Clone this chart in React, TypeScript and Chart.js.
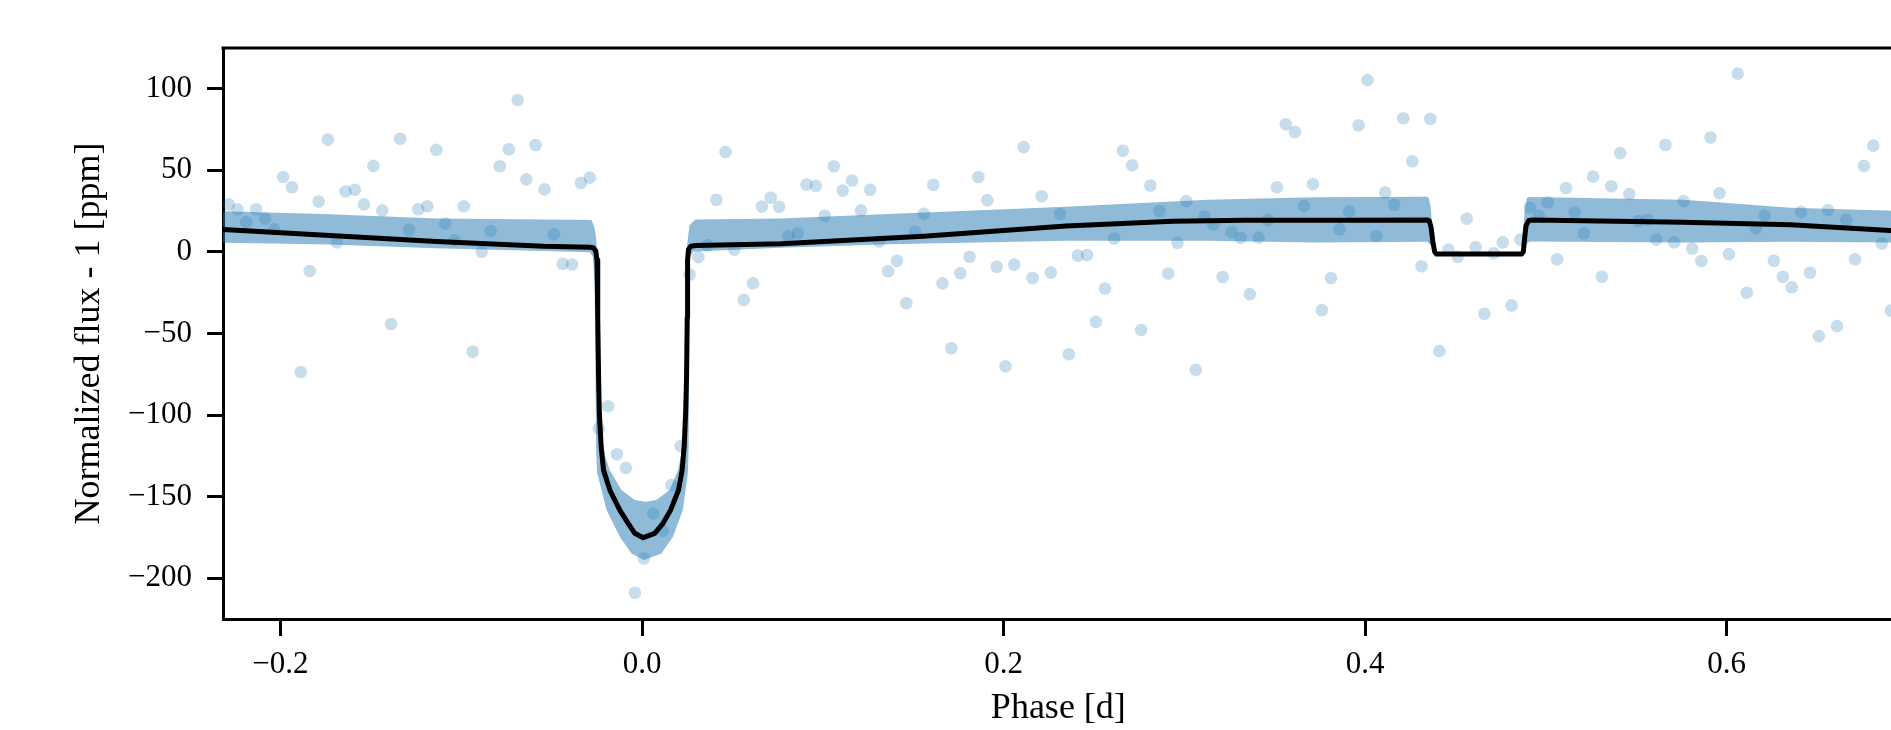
import React, { useEffect, useRef } from "react";
import { Chart, registerables } from "chart.js";

Chart.register(...registerables);

// ---------- axis ticks ----------
const xTicks = [-0.2, 0.0, 0.2, 0.4, 0.6];
const xTickLabels = ["\u22120.2", "0.0", "0.2", "0.4", "0.6"];
const yTicks = [-200, -150, -100, -50, 0, 50, 100];
const yTickLabels = ["\u2212200", "\u2212150", "\u2212100", "\u221250", "0", "50", "100"];
const xLimits = [-0.2318, 0.6924];
const yLimits = [-224.9, 124.9];

// ---------- binned observations ----------
const dataPhase = [
  -0.2286, -0.2238, -0.2189, -0.2135, -0.2086, -0.2035, -0.1986, -0.1937, -0.1888, -0.1838,
  -0.1789, -0.1738, -0.1688, -0.164, -0.1589, -0.1538, -0.1486, -0.1437, -0.1388, -0.1338,
  -0.1289, -0.1238, -0.1188, -0.1138, -0.1089, -0.1037, -0.0986, -0.0937, -0.0887, -0.0838,
  -0.0787, -0.0737, -0.0688, -0.064, -0.0589, -0.0539, -0.0488, -0.0439, -0.0387, -0.0338,
  -0.0289, -0.0239, -0.0188, -0.0139, -0.0089, -0.0039, 0.001, 0.0062, 0.0115, 0.0162,
  0.0214, 0.0263, 0.0312, 0.0362, 0.0411, 0.0462, 0.0511, 0.0563, 0.0614, 0.0663,
  0.0712, 0.0758,
  0.0809, 0.0861, 0.091, 0.0961, 0.1011, 0.1061, 0.111, 0.1162, 0.1211, 0.1262,
  0.1312, 0.1361, 0.141, 0.1462, 0.151, 0.1559, 0.1611, 0.1662, 0.1711, 0.1761,
  0.1812, 0.1861, 0.191, 0.1962, 0.2011, 0.2059, 0.2111, 0.216, 0.2211, 0.2261,
  0.2312, 0.2361, 0.2411, 0.2462, 0.2511, 0.2561, 0.2611, 0.266, 0.2712, 0.2761,
  0.2812, 0.2862, 0.2911, 0.2962, 0.3011, 0.3063, 0.3112, 0.316, 0.3212, 0.3261,
  0.3312, 0.3362, 0.3411, 0.3462, 0.3512, 0.3561, 0.3612, 0.3662, 0.3711, 0.3761,
  0.3811, 0.3858,
  0.3912, 0.3964, 0.4013, 0.4062, 0.4111, 0.416, 0.4211, 0.4261, 0.4312, 0.4361,
  0.4411, 0.4461, 0.4512, 0.4562, 0.4611, 0.466, 0.4711, 0.4761, 0.481, 0.4859,
  0.4911, 0.4961, 0.501, 0.5062, 0.5111, 0.516, 0.521, 0.5261, 0.531, 0.5362,
  0.5411, 0.5461, 0.5511, 0.5562, 0.5611, 0.5661, 0.571, 0.5761, 0.581, 0.586,
  0.5911, 0.596, 0.6012, 0.6061, 0.6111, 0.6161, 0.621, 0.6261, 0.6311, 0.636,
  0.6411, 0.6461, 0.651, 0.6561, 0.6611, 0.6661, 0.671, 0.6759, 0.6811, 0.6858,
  0.6908,
];
const dataFlux = [
  29.1, 26.1, 18.2, 26.1, 20.4, 13.8, 45.9, 39.6, -73.6, -11.7,
  30.9, 68.8, 5.8, 37.0, 38.1, 29.1, 52.7, 25.4, -44.2, 69.3,
  13.6, 26.1, 28.0, 62.5, 17.3, 7.1, 28.0, -61.2, 0.1, 12.7,
  52.5, 62.9, 93.0, 44.4, 65.5, 38.3, 11.0, -7.3, -7.7, 42.2,
  45.5, -108.3, -94.6, -124.0, -132.3, -208.8, -187.8, -160.3, -170.9, -142.9,
  -119.0, -13.9, -3.2, 4.0, 31.9, 61.2, 1.4, -29.4, -19.3, 27.8,
  33.3, 27.6,
  9.5, 11.4, 41.3, 40.5, 22.1, 52.5, 37.6, 43.7, 25.4, 38.1,
  6.4, -11.9, -5.4, -31.5, 12.3, 23.4, 41.1, -19.3, -59.0, -13.0,
  -3.0, 45.9, 31.7, -9.1, -70.1, -7.8, 64.2, -16.0, 34.1, -12.6,
  23.2, -62.7, -2.3, -1.9, -42.9, -22.4, 8.2, 62.0, 53.1, -47.9,
  40.7, 25.0, -13.2, 5.6, 31.1, -72.3, 21.7, 16.9, -15.4, 12.1,
  8.6, -25.9, 8.8, 19.5, 39.6, 78.2, 73.4, 28.2, 41.5, -35.7,
  -16.0, 13.8,
  24.8, 77.5, 105.2, 9.7, 36.3, 28.9, 81.9, 55.5, -8.8, 81.5,
  -60.8, 1.4, -3.0, 20.4, 2.9, -37.9, -0.8, 5.8, -32.8, 7.5,
  27.2, 22.1, 30.4, -4.5, 39.1, 24.1, 11.4, 46.1, -15.2, 40.2,
  60.5, 35.4, 18.9, 19.7, 7.5, 65.5, 5.8, 31.1, 2.1, -5.6,
  70.1, 35.9, -1.4, 109.2, -25.0, 14.7, 22.3, -5.4, -15.2, -21.7,
  24.5, -12.8, -51.6, 25.6, -45.5, 19.7, -4.5, 52.7, 65.1, 5.1,
  -36.0,
];

// ---------- best-fit model ----------
const modelPhase = [
  -0.2318, -0.1727, -0.1136, -0.0545, -0.0289, -0.027, -0.0256, -0.0249, -0.0245, -0.024,
  -0.0236, -0.0226, -0.0213, -0.0178, -0.0123, -0.0077, -0.004, 0.0006, 0.007, 0.0116,
  0.0158, 0.0202, 0.0222, 0.0233, 0.0241, 0.0246, 0.025, 0.0252, 0.0257, 0.027,
  0.03,
  0.077, 0.1558, 0.2345, 0.2936, 0.333, 0.3858, 0.4343, 0.4355, 0.4365, 0.4375,
  0.4385, 0.4395, 0.4865, 0.4875, 0.4882, 0.489, 0.4905, 0.4925, 0.5761, 0.6352,
  0.688, 0.6924,
];
const modelFlux = [
  13.7, 10.0, 6.3, 3.4, 2.8, 2.6, 0.5, -5, -40, -78.6,
  -99.0, -119.4, -133.7, -145.9, -158.2, -166.3, -172.4, -175.1, -172.4, -166.3,
  -158.2, -145.9, -133.7, -119.4, -99.0, -78.6, -40, -5, 1.5, 3.5,
  3.9,
  5.0, 9.6, 15.9, 18.7, 19.4, 19.4, 19.6, 19.0, 15, 6,
  0, -1.3, -1.3, 0, 8, 16, 19.2, 19.5, 18.1, 16.6,
  13.3, 13.0,
];

// ---------- credible band ----------
const upperPhase = [
  -0.2318, -0.1727, -0.1136, -0.0545, -0.028, -0.0266, -0.0257, -0.0248, -0.0241, -0.0234,
  -0.0228, -0.0205, -0.0178, -0.0114, -0.004, 0.002, 0.0079, 0.0153, 0.0199, 0.0215,
  0.023, 0.0238, 0.0241, 0.025, 0.0263, 0.0294,
  0.077, 0.1362, 0.2345, 0.3133, 0.3725, 0.4343,
  0.4352, 0.4362, 0.4372, 0.4385, 0.4395, 0.4865, 0.4872, 0.4882, 0.4895, 0.4912,
  0.5761, 0.6352, 0.688, 0.6924,
];
const upperFlux = [
  24.9, 23.1, 20.5, 19.8, 19.6, 16.0, 11.3, 1.0, -20, -80,
  -110, -125, -133.7, -145.9, -152.0, -153.1, -152.0, -145.9, -133.7, -125,
  -105, -80, -20, 5, 16.3, 19.8,
  20.4, 23.2, 27.6, 32.0, 33.5, 33.7,
  33.0, 28, 15, 2, -1.3, -1.3, 8, 25, 33.2, 33.6,
  32.0, 27.0, 25.4, 25.2,
];
const lowerPhase = [
  -0.2318, -0.1727, -0.1136, -0.0545, -0.0289, -0.0272, -0.0262, -0.0257, -0.0254, -0.0249,
  -0.0196, -0.0123, -0.0058, 0.001, 0.0107, 0.0171, 0.0226, 0.0254, 0.0258, 0.026,
  0.0262, 0.0266, 0.0285,
  0.077, 0.1362, 0.2345, 0.3133, 0.3725, 0.4343, 0.4365,
  0.438, 0.4395, 0.4865, 0.488, 0.49, 0.4915, 0.5761, 0.6352, 0.6924,
];
const lowerFlux = [
  5.6, 4.5, 2.3, 0.6, -0.3, -3, -20, -80, -120, -135,
  -158.2, -174.5, -184.7, -188.8, -184.7, -174.5, -158.2, -135, -120, -80,
  -20, -3, 0.3,
  2.5, 4.7, 6.8, 6.8, 5.8, 6.2, 4,
  1, -1.3, -1.3, 2, 5.8, 6.4, 5.8, 6.2, 5.8,
];

const FONT = "'Liberation Serif', 'Times New Roman', Times, serif";

const zip = (xs: number[], ys: number[]) => xs.map((x, i) => ({ x, y: ys[i] }));

export default function App() {
  const canvasRef = useRef<HTMLCanvasElement | null>(null);

  useEffect(() => {
    document.body.style.margin = "0";
    document.body.style.overflow = "hidden";
    const canvas = canvasRef.current;
    if (!canvas) return;

    const topSpine = {
      id: "topSpine",
      afterDraw(chart: any) {
        const { ctx, chartArea } = chart;
        ctx.save();
        ctx.strokeStyle = "#000";
        ctx.lineWidth = 3;
        ctx.beginPath();
        ctx.moveTo(chartArea.left - 1.5, chartArea.top);
        ctx.lineTo(chartArea.right + 20, chartArea.top);
        ctx.stroke();
        ctx.restore();
      },
    };

    const chart = new Chart(canvas, {
      type: "scatter",
      data: {
        datasets: [
          {
            label: "model",
            data: zip(modelPhase, modelFlux),
            showLine: true,
            borderColor: "#000000",
            borderWidth: 5,
            pointRadius: 0,
            pointHoverRadius: 0,
            tension: 0,
            borderJoinStyle: "round",
            borderCapStyle: "round",
            fill: false,
            clip: 0,
          } as any,
          {
            label: "data",
            data: zip(dataPhase, dataFlux),
            showLine: false,
            pointRadius: 6.3,
            pointHoverRadius: 6.3,
            pointBackgroundColor: "rgba(31,119,180,0.25)",
            pointBorderColor: "rgba(0,0,0,0)",
            pointBorderWidth: 0,
            clip: 0,
          } as any,
          {
            label: "upper",
            data: zip(upperPhase, upperFlux),
            showLine: true,
            borderColor: "rgba(0,0,0,0)",
            borderWidth: 0,
            pointRadius: 0,
            pointHoverRadius: 0,
            tension: 0,
            fill: "+1",
            backgroundColor: "rgba(31,119,180,0.5)",
            clip: 0,
          } as any,
          {
            label: "lower",
            data: zip(lowerPhase, lowerFlux),
            showLine: true,
            borderColor: "rgba(0,0,0,0)",
            borderWidth: 0,
            pointRadius: 0,
            pointHoverRadius: 0,
            tension: 0,
            fill: false,
            clip: 0,
          } as any,
        ],
      },
      options: {
        animation: false,
        responsive: false,
        maintainAspectRatio: false,
        events: [],
        layout: { padding: { top: 48, right: 1, bottom: 0, left: 0 } },
        plugins: {
          legend: { display: false },
          tooltip: { enabled: false },
        },
        scales: {
          x: {
            type: "linear",
            position: "bottom",
            min: xLimits[0],
            max: xLimits[1],
            afterBuildTicks: (axis: any) => {
              axis.ticks = xTicks.map((v) => ({ value: v }));
            },
            afterFit: (axis: any) => {
              axis.height = 111;
            },
            ticks: {
              autoSkip: false,
              maxRotation: 0,
              minRotation: 0,
              padding: 10,
              color: "#000",
              font: { family: FONT, size: 31 },
              callback: (_v: any, i: number) => xTickLabels[i],
            },
            grid: {
              drawOnChartArea: false,
              drawTicks: true,
              tickLength: 17,
              tickWidth: 3,
              tickColor: "#000",
            },
            border: { display: true, color: "#000", width: 3 },
            title: {
              display: true,
              text: "Phase [d]",
              color: "#000",
              font: { family: FONT, size: 36 },
              padding: { top: 0, bottom: 0 },
            },
          },
          y: {
            type: "linear",
            position: "left",
            min: yLimits[0],
            max: yLimits[1],
            afterBuildTicks: (axis: any) => {
              axis.ticks = yTicks.map((v) => ({ value: v }));
            },
            afterFit: (axis: any) => {
              axis.width = 223;
            },
            ticks: {
              autoSkip: false,
              padding: 15,
              color: "#000",
              font: { family: FONT, size: 31 },
              callback: (_v: any, i: number) => yTickLabels[i],
            },
            grid: {
              drawOnChartArea: false,
              drawTicks: true,
              tickLength: 16,
              tickWidth: 3,
              tickColor: "#000",
            },
            border: { display: true, color: "#000", width: 3 },
            title: {
              display: true,
              text: "Normalized flux - 1 [ppm]",
              color: "#000",
              font: { family: FONT, size: 36 },
              padding: { top: 68, bottom: 0 },
            },
          },
        },
      } as any,
      plugins: [topSpine],
    });

    return () => chart.destroy();
  }, []);

  return (
    <div style={{ width: 1891, height: 730, overflow: "hidden", background: "#fff" }}>
      <canvas
        ref={canvasRef}
        width={1900}
        height={730}
        style={{ display: "block", width: 1900, height: 730 }}
      />
    </div>
  );
}
